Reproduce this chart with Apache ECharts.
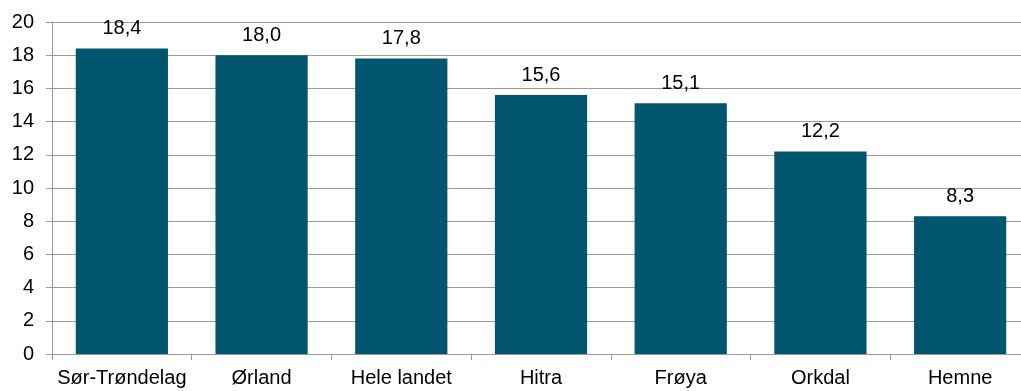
<!DOCTYPE html>
<html>
<head>
<meta charset="utf-8">
<script src="https://cdn.jsdelivr.net/npm/echarts@6/dist/echarts.min.js"></script>
<style>
  html, body { margin: 0; padding: 0; background: #ffffff; }
  #chart { width: 1021px; height: 391px; }
</style>
</head>
<body>
<div id="chart"></div>
<script>
// Kommuner / regioner
const categories = ['Sør-Trøndelag', 'Ørland', 'Hele landet', 'Hitra', 'Frøya', 'Orkdal', 'Hemne'];
// Verdier per region
const values = [18.4, 18.0, 17.8, 15.6, 15.1, 12.2, 8.3];
// Y-akse
const yMin = 0;
const yMax = 20;
const yStep = 2;

const fontFamily = '"Liberation Sans", Arial, sans-serif';
const textColor = '#000000';
const lineColor = '#9a9a9a';

const chart = echarts.init(document.getElementById('chart'), null, { renderer: 'canvas' });

chart.setOption({
  animation: false,
  backgroundColor: '#ffffff',
  grid: {
    left: 52,
    right: -9,
    top: 22,
    bottom: 37,
    containLabel: false,
    outerBoundsMode: 'none'
  },
  xAxis: {
    type: 'category',
    data: categories,
    boundaryGap: true,
    axisLine: { show: true, lineStyle: { color: lineColor, width: 1 } },
    axisTick: { show: true, alignWithLabel: false, length: 6, lineStyle: { color: lineColor } },
    axisLabel: {
      interval: 0,
      margin: 14,
      color: textColor,
      fontFamily: fontFamily,
      fontSize: 20
    },
    splitLine: { show: false }
  },
  yAxis: {
    type: 'value',
    min: yMin,
    max: yMax,
    interval: yStep,
    axisLine: { show: true, lineStyle: { color: lineColor, width: 1 } },
    axisTick: { show: true, length: 6, lineStyle: { color: lineColor } },
    axisLabel: {
      margin: 18,
      color: textColor,
      fontFamily: fontFamily,
      fontSize: 20
    },
    splitLine: { show: true, lineStyle: { color: lineColor, width: 1 } }
  },
  series: [{
    type: 'bar',
    data: values,
    barWidth: '66%',
    itemStyle: { color: '#02556E' },
    label: {
      show: true,
      position: 'top',
      distance: 10,
      color: textColor,
      fontFamily: fontFamily,
      fontSize: 20,
      formatter: (p) => p.value.toFixed(1).replace('.', ',')
    }
  }]
});
</script>
</body>
</html>
